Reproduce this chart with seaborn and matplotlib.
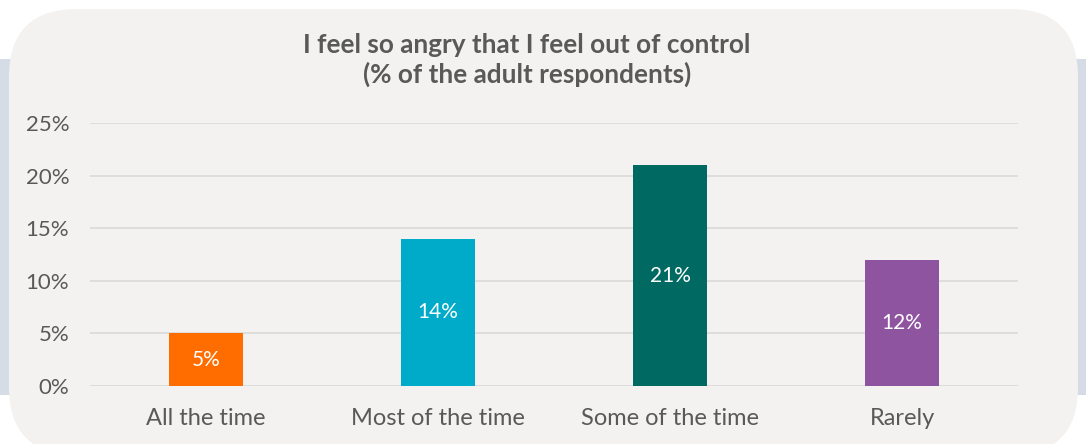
import matplotlib
matplotlib.use("Agg")
import matplotlib.pyplot as plt
from matplotlib.patches import FancyBboxPatch, Rectangle
import seaborn as sns
import pandas as pd

# data
categories = ["All the time", "Most of the time", "Some of the time", "Rarely"]
values = [5, 14, 21, 12]
bar_colors = ["#ff6d00", "#00abc9", "#006a62", "#8f54a0"]
y_ticks = [0, 5, 10, 15, 20, 25]

df = pd.DataFrame({"answer": categories, "pct": values})

sns.set_theme(style="white")
plt.rcParams["font.family"] = ["Lato", "DejaVu Sans"]

W, H = 1086, 444
fig = plt.figure(figsize=(W / 100, H / 100), dpi=100)
fig.patch.set_facecolor("white")

# light blue band behind the card
fig.patches.append(Rectangle((0, (H - 395) / H), 1, (395 - 59) / H,
                             transform=fig.transFigure, facecolor="#d5dce6",
                             edgecolor="none", zorder=-2))
# rounded card, bottom slightly below the image edge
fig.patches.append(FancyBboxPatch((9 / 100, -0.11), (1078 - 9) / 100, (H - 9) / 100 + 0.11,
                                  boxstyle="round,pad=0,rounding_size=0.68",
                                  transform=fig.dpi_scale_trans, facecolor="#f3f2f0",
                                  edgecolor="none", zorder=-1))

ax = fig.add_axes([90 / W, (H - 386) / H, 928 / W, (386 - 123) / H])
ax.set_facecolor("none")

sns.barplot(data=df, x="answer", y="pct", hue="answer", palette=bar_colors,
            width=0.315, legend=False, ax=ax, zorder=3, saturation=1, linewidth=0)

for c in ax.containers:
    ax.bar_label(c, labels=[f"{v:.0f}%" for v in c.datavalues], label_type="center",
                 color="white", fontsize=15)

ax.set_ylim(0, 25)
ax.set_xlim(-0.5, 3.5)
ax.set_yticks(y_ticks)
ax.set_yticklabels([f"{t}%" for t in y_ticks])
ax.yaxis.grid(True, color="#d9d9d9", linewidth=1.2, zorder=0)
ax.set_axisbelow(True)
for s in ax.spines.values():
    s.set_visible(False)
ax.set_xlabel("")
ax.set_ylabel("")
ax.tick_params(axis="x", length=0, pad=16, labelsize=17, labelcolor="#595959")
ax.tick_params(axis="y", length=0, pad=15, labelsize=16, labelcolor="#595959")

fig.text(527 / W, 1 - 60 / H, "I feel so angry that I feel out of control\n(% of the adult respondents)",
         ha="center", va="center", fontsize=18.8, fontweight="bold", color="#595959",
         linespacing=1.2)

fig.savefig("out.png", dpi=100, facecolor=fig.get_facecolor())
